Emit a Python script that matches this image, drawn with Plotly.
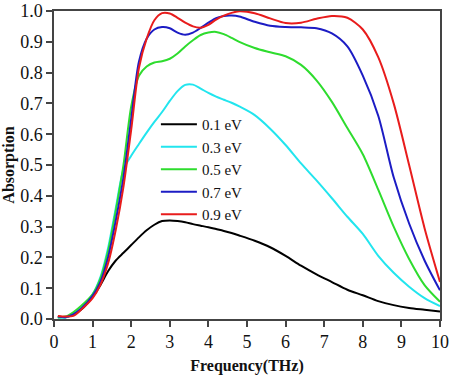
import plotly.graph_objects as go

freq = [0.1, 0.3, 0.5, 0.7, 1.0, 1.2, 1.4, 1.6, 1.8, 2.0, 2.2, 2.4, 2.6, 2.8, 3.0, 3.2, 3.4, 3.6,
        3.8, 4.0, 4.2, 4.4, 4.6, 4.8, 5.2, 5.6, 6.0, 6.4, 6.8, 7.2, 7.6, 8.0, 8.4, 8.8,
        9.2, 9.6, 10.0]

abs_01 = [0.008, 0.006, 0.015, 0.030, 0.072, 0.110, 0.155, 0.190, 0.215, 0.240, 0.265, 0.288, 0.306,
          0.318, 0.320, 0.318, 0.314, 0.308, 0.303, 0.298, 0.292, 0.286, 0.279, 0.271,
          0.254, 0.233, 0.205, 0.173, 0.145, 0.120, 0.095, 0.077, 0.058, 0.045, 0.036,
          0.030, 0.024]
abs_03 = [0.005, 0.005, 0.015, 0.035, 0.080, 0.135, 0.230, 0.360, 0.485, 0.530, 0.568, 0.605, 0.640,
          0.672, 0.708, 0.740, 0.760, 0.761, 0.748, 0.734, 0.722, 0.712, 0.702, 0.690,
          0.662, 0.618, 0.565, 0.505, 0.450, 0.392, 0.332, 0.276, 0.205, 0.150, 0.105,
          0.068, 0.042]
abs_05 = [0.005, 0.008, 0.022, 0.042, 0.080, 0.130, 0.220, 0.350, 0.500, 0.690, 0.790, 0.820, 0.833,
          0.837, 0.845, 0.862, 0.885, 0.905, 0.922, 0.930, 0.932, 0.925, 0.913, 0.900,
          0.880, 0.866, 0.853, 0.825, 0.775, 0.705, 0.620, 0.535, 0.420, 0.300, 0.195,
          0.110, 0.056]
abs_07 = [0.008, 0.006, 0.015, 0.033, 0.075, 0.120, 0.200, 0.320, 0.460, 0.650, 0.835, 0.910, 0.940,
          0.948, 0.944, 0.930, 0.923, 0.930, 0.945, 0.962, 0.977, 0.984, 0.985, 0.982,
          0.965, 0.952, 0.948, 0.947, 0.944, 0.927, 0.885, 0.790, 0.660, 0.460, 0.310,
          0.190, 0.093]
abs_09 = [0.010, 0.008, 0.010, 0.030, 0.068, 0.110, 0.180, 0.290, 0.430, 0.615, 0.815, 0.910, 0.970,
          0.993, 0.992, 0.978, 0.962, 0.950, 0.946, 0.955, 0.972, 0.985, 0.994, 0.999,
          0.993, 0.976, 0.961, 0.962, 0.975, 0.984, 0.978, 0.940, 0.850, 0.700, 0.500,
          0.295, 0.120]

series_names = ["0.1 eV", "0.3 eV", "0.5 eV", "0.7 eV", "0.9 eV"]
series_vals = [abs_01, abs_03, abs_05, abs_07, abs_09]
series_colors = ["#000000", "#22e5ee", "#2edc2e", "#1c1cc4", "#e81c1c"]

x_ticks = [0, 1, 2, 3, 4, 5, 6, 7, 8, 9, 10]
y_ticks = [0.0, 0.1, 0.2, 0.3, 0.4, 0.5, 0.6, 0.7, 0.8, 0.9, 1.0]

fig = go.Figure()
for name, vals, col in zip(series_names, series_vals, series_colors):
    fig.add_trace(go.Scatter(x=freq, y=vals, name=name, mode="lines",
                             line=dict(color=col, width=2, shape="spline", smoothing=0.8)))

serif = "Liberation Serif, Times New Roman, serif"
axis_common = dict(showline=True, linecolor="#444", linewidth=1.5, mirror=True,
                   ticks="outside", ticklen=6, tickwidth=1.5, tickcolor="#444",
                   showgrid=False, zeroline=False, automargin=False,
                   ticklabeloverflow="allow",
                   tickfont=dict(family=serif, size=18, color="#111"))

fig.update_layout(
    width=474, height=390,
    margin=dict(l=54, r=34, t=11, b=71),
    paper_bgcolor="white", plot_bgcolor="white",
    xaxis=dict(range=[0, 10], tickvals=x_ticks, ticktext=[str(v) for v in x_ticks],
               title=dict(text="<b>Frequency(THz)</b>", standoff=8,
                          font=dict(family=serif, size=16, color="#111")),
               **axis_common),
    yaxis=dict(range=[0, 1.0], tickvals=y_ticks, ticktext=[f"{v:.1f}" for v in y_ticks],
               title=dict(text="<b>Absorption</b>", standoff=2,
                          font=dict(family=serif, size=16, color="#111")),
               **axis_common),
    legend=dict(x=0.264, y=0.685, xanchor="left", yanchor="top",
                bgcolor="rgba(0,0,0,0)", borderwidth=0,
                font=dict(family=serif, size=15, color="#111"),
                itemwidth=36, tracegroupgap=0),
    showlegend=True,
)

fig.write_html("out.html", config={"displayModeBar": False},
               post_script="document.body.style.margin='0px';document.body.style.overflow='hidden';")
